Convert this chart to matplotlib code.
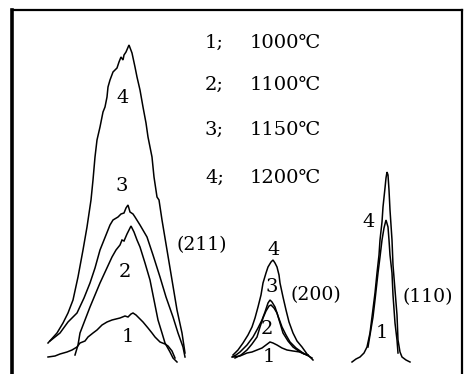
import matplotlib
matplotlib.use('Agg')
import matplotlib.pyplot as plt

# XRD peak profiles (x = position, y = intensity, arb. units)
# (211) reflection
x211_4 = [48, 57, 63, 68, 73, 78, 83, 87, 91, 93, 95, 97, 100, 102, 103, 105, 107, 108, 110, 113, 117, 119,
          121, 123, 124, 126, 129, 132, 135, 137, 140, 143, 146, 148, 152, 154, 157, 159, 162, 167, 172, 177, 182, 185]
y211_4 = [29, 39, 49, 59, 72, 95, 122, 145, 172, 192, 215, 232, 245, 255, 260, 265, 275, 285, 292, 300, 304, 310,
          315, 312, 317, 320, 327, 319, 305, 295, 282, 265, 249, 235, 215, 195, 175, 172, 152, 122, 92, 62, 39, 19]
x211_3 = [50, 60, 68, 77, 84, 90, 95, 100, 106, 110, 113, 118, 121, 124, 126, 128, 130, 133, 135, 140, 147, 153,
          160, 166, 173, 178, 183, 185]
y211_3 = [31, 39, 50, 59, 74, 89, 104, 122, 137, 147, 152, 155, 158, 159, 164, 167, 160, 158, 155, 147, 135, 117,
          95, 75, 55, 39, 25, 15]
x211_2 = [75, 78, 80, 85, 90, 95, 100, 106, 112, 116, 120, 122, 124, 127, 131, 134, 137, 140, 145, 150, 154, 158,
          162, 165, 170, 173, 177]
y211_2 = [17, 27, 39, 52, 65, 77, 89, 102, 115, 122, 127, 132, 131, 138, 146, 140, 132, 125, 109, 92, 72, 52,
          39, 29, 20, 14, 10]
x211_1 = [48, 55, 60, 67, 72, 77, 80, 85, 88, 93, 97, 102, 107, 112, 116, 120, 125, 128, 131, 133, 136, 140, 143,
          148, 152, 155, 160, 165, 168, 172, 175]
y211_1 = [15, 16, 18, 20, 22, 25, 29, 31, 35, 39, 42, 47, 50, 52, 53, 54, 56, 55, 58, 59, 57, 53, 50,
          44, 39, 35, 30, 28, 26, 21, 14]

# (200) reflection
x200_4 = [233, 238, 243, 248, 252, 255, 258, 261, 263, 266, 268, 271, 273, 275, 277, 279, 280, 283, 286, 289,
          293, 297, 302, 307, 313]
y200_4 = [17, 22, 29, 37, 45, 54, 65, 77, 89, 99, 105, 110, 112, 109, 105, 97, 89, 75, 62, 50, 39, 31, 25, 18, 12]
x200_3 = [232, 236, 240, 247, 253, 258, 262, 265, 268, 270, 272, 275, 278, 282, 286, 290, 296, 303, 312]
y200_3 = [15, 17, 20, 27, 35, 44, 52, 60, 69, 72, 70, 65, 56, 45, 37, 30, 24, 19, 14]
x200_2 = [235, 241, 247, 252, 257, 260, 263, 266, 269, 271, 274, 277, 280, 283, 288, 293, 300, 307]
y200_2 = [14, 17, 22, 28, 35, 45, 54, 61, 66, 67, 64, 59, 49, 39, 31, 25, 20, 17]
x200_1 = [233, 240, 247, 252, 257, 262, 266, 270, 273, 277, 282, 287, 293, 300, 304, 308]
y200_1 = [15, 16, 19, 20, 22, 24, 27, 30, 29, 27, 24, 22, 21, 20, 18, 17]

# (110) reflection
x110_4 = [352, 356, 360, 364, 367, 370, 372, 375, 377, 379, 380, 382, 383, 385, 386, 387, 388, 389, 390, 392,
          393, 395, 397, 398, 400, 402, 406, 410]
y110_4 = [10, 13, 15, 19, 25, 39, 55, 79, 99, 117, 132, 150, 165, 184, 194, 200, 197, 182, 162, 132,
          107, 82, 57, 32, 20, 15, 12, 10]
x110_1 = [368, 370, 373, 375, 378, 380, 382, 384, 386, 388, 389, 390, 392, 393, 395, 397, 398]
y110_1 = [25, 37, 55, 72, 99, 115, 132, 144, 152, 145, 132, 117, 99, 77, 49, 32, 19]

legend_ids = ['1;', '2;', '3;', '4;']
legend_temps = ['1000℃', '1100℃', '1150℃', '1200℃']

fonts = ['DejaVu Serif', 'DejaVu Sans']

fig = plt.figure(figsize=(4.74, 3.74), dpi=100)
ax = fig.add_axes([12 / 474, 0, 450 / 474, 364 / 374])

curves = [(x211_4, y211_4), (x211_3, y211_3), (x211_2, y211_2), (x211_1, y211_1),
          (x200_4, y200_4), (x200_3, y200_3), (x200_2, y200_2), (x200_1, y200_1),
          (x110_4, y110_4), (x110_1, y110_1)]
for xs, ys in curves:
    ax.plot(xs, ys, color='black', lw=1.1, solid_joinstyle='miter')

ax.set_xlim(12, 462)
ax.set_ylim(-2, 362)
ax.set_xticks([])
ax.set_yticks([])
ax.spines['left'].set_linewidth(2.6)
ax.spines['top'].set_linewidth(1.6)
ax.spines['right'].set_linewidth(1.6)
ax.spines['bottom'].set_visible(False)

# curve numbers
labels = [('4', 123, 274), ('3', 122, 186), ('2', 125, 100), ('1', 128, 35),
          ('4', 274, 122), ('3', 272, 85), ('2', 267, 43), ('1', 269, 15),
          ('4', 369, 150), ('1', 382, 39)]
for s, x, y in labels:
    ax.text(x, y, s, fontsize=14, family=fonts, ha='center', va='center')

for s, x, y in [('(211)', 202, 127), ('(200)', 316, 77), ('(110)', 428, 75)]:
    ax.text(x, y, s, fontsize=13.5, family=fonts, ha='center', va='center')

# legend
for i, (lid, temp) in enumerate(zip(legend_ids, legend_temps)):
    y = [329, 287, 242, 194][i]
    ax.text(205, y, lid, fontsize=14, family=fonts, ha='left', va='center')
    ax.text(250, y, temp, fontsize=14, family=fonts, ha='left', va='center')

fig.savefig('out.png', dpi=100)
